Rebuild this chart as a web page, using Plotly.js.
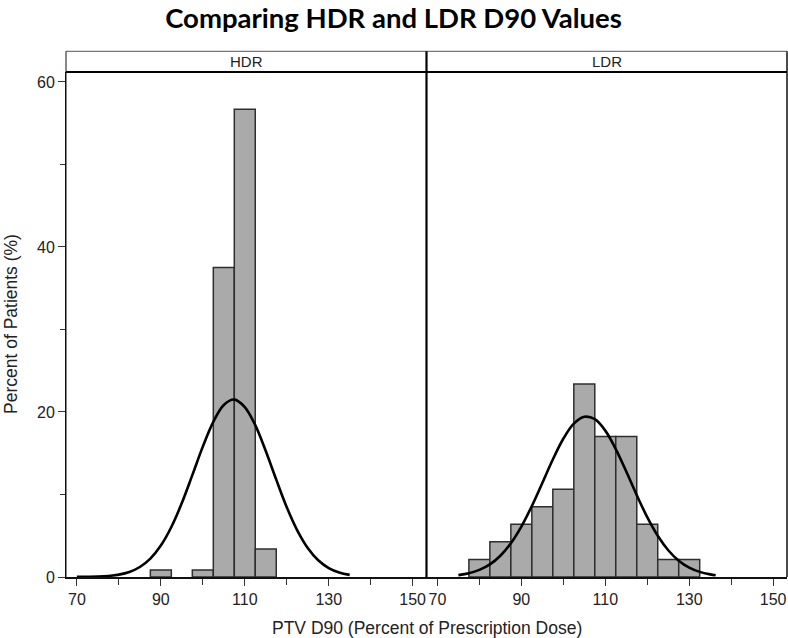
<!DOCTYPE html>
<html>
<head>
<meta charset="utf-8">
<script src="https://cdn.plot.ly/plotly-3.0.1.min.js"></script>
<style>html,body{margin:0;padding:0;background:#fff;}#chart{width:788px;height:638px;}</style>
</head>
<body>
<div id="chart"></div>
<script>
// Histogram bins (bin centers, percent of patients)
var hdrBins = [90, 100, 105, 110, 115];
var hdrPercent = [0.85, 0.85, 37.5, 56.7, 3.4];
var ldrBins = [80, 85, 90, 95, 100, 105, 110, 115, 120, 125, 130];
var ldrPercent = [2.13, 4.26, 6.38, 8.51, 10.64, 23.4, 17.02, 17.02, 6.38, 2.13, 2.13];

// Fitted normal density curves
var hdrCurveX = [70, 72.5, 75, 77.5, 80, 82.5, 85, 87.5, 90, 92.5, 95, 97.5, 100, 102.5, 105, 107.5, 110, 112.5, 115, 117.5, 120, 122.5, 125, 127.5, 130, 132.5, 135];
var hdrCurveY = [0.01, 0.02, 0.05, 0.13, 0.29, 0.61, 1.21, 2.23, 3.81, 6.06, 8.96, 12.34, 15.8, 18.8, 20.85, 21.5, 20.6, 18.4, 15.26, 11.8, 8.46, 5.66, 3.52, 2.03, 1.09, 0.55, 0.26];
var ldrCurveX = [75, 77.5, 80, 82.5, 85, 87.5, 90, 92.5, 95, 97.5, 100, 102.5, 105, 107.5, 110, 112.5, 115, 117.5, 120, 122.5, 125, 127.5, 130, 132.5, 135, 136.3];
var ldrCurveY = [0.23, 0.45, 0.86, 1.53, 2.58, 4.09, 6.11, 8.6, 11.4, 14.24, 16.75, 18.58, 19.41, 19.12, 17.74, 15.5, 12.78, 9.92, 7.25, 4.99, 3.24, 1.98, 1.14, 0.62, 0.32, 0.22];

var panelNames = ['HDR', 'LDR'];
var xTickVals = [70, 90, 110, 130, 150];
var yTickVals = [0, 20, 40, 60];

var barStyle = {color: '#aaaaaa', line: {color: '#2e2e2e', width: 1.5}};
var traces = [
  {type: 'bar', x: hdrBins, y: hdrPercent, width: 5, marker: barStyle, xaxis: 'x', yaxis: 'y', name: 'HDR', hoverinfo: 'x+y'},
  {type: 'scatter', mode: 'lines', x: hdrCurveX, y: hdrCurveY, line: {color: '#000', width: 2.6, shape: 'spline'}, xaxis: 'x', yaxis: 'y', name: 'HDR normal'},
  {type: 'bar', x: ldrBins, y: ldrPercent, width: 5, marker: barStyle, xaxis: 'x2', yaxis: 'y', name: 'LDR', hoverinfo: 'x+y'},
  {type: 'scatter', mode: 'lines', x: ldrCurveX, y: ldrCurveY, line: {color: '#000', width: 2.6, shape: 'spline'}, xaxis: 'x2', yaxis: 'y', name: 'LDR normal'}
];

var tickFont = {family: 'Liberation Sans, Arial, sans-serif', size: 16, color: '#222'};
function xAxis(domain) {
  return {
    domain: domain, range: [67.4, 153.3], anchor: 'y',
    tickmode: 'array', tickvals: xTickVals, ticktext: xTickVals.map(String),
    ticks: 'outside', ticklen: 7, tickwidth: 1, tickcolor: '#333',
    minor: {tickmode: 'linear', tick0: 70, dtick: 10, ticks: 'outside', ticklen: 6, tickwidth: 1, tickcolor: '#333', showgrid: false},
    showline: true, linecolor: '#111', linewidth: 1.5,
    showgrid: false, zeroline: false, tickfont: tickFont, fixedrange: true
  };
}

var stripH = 20.7 / 505;
var layout = {
  width: 788, height: 638,
  margin: {l: 66, r: 1, t: 72, b: 61},
  paper_bgcolor: '#fff', plot_bgcolor: '#fff',
  showlegend: false, bargap: 0,
  title: {
    text: '<b>Comparing HDR and LDR D90 Values</b>',
    font: {family: 'Lato, Open Sans, sans-serif', size: 27.5, color: '#000'},
    x: 0.4994, xref: 'container', xanchor: 'center',
    y: 1 - 18 / 638, yref: 'container', yanchor: 'middle'
  },
  xaxis: xAxis([0, 0.5]),
  xaxis2: xAxis([0.5, 1]),
  yaxis: {
    range: [0, 61.2], tickmode: 'array', tickvals: yTickVals, ticktext: yTickVals.map(String),
    ticks: 'outside', ticklen: 7, tickwidth: 1, tickcolor: '#333',
    minor: {tickmode: 'linear', tick0: 0, dtick: 10, ticks: 'outside', ticklen: 5, tickwidth: 1, tickcolor: '#333', showgrid: false},
    showline: true, linecolor: '#111', linewidth: 1,
    showgrid: false, zeroline: false, tickfont: tickFont, fixedrange: true
  },
  shapes: [
    {type: 'line', xref: 'paper', yref: 'paper', x0: 0, x1: 1, y0: 1 + stripH, y1: 1 + stripH, line: {color: '#555', width: 1}},
    {type: 'line', xref: 'paper', yref: 'paper', x0: 0, x1: 1, y0: 1, y1: 1, line: {color: '#000', width: 2.2}},
    {type: 'line', xref: 'paper', yref: 'paper', x0: 0, x1: 0, y0: 0, y1: 1 + stripH, line: {color: '#111', width: 1}},
    {type: 'line', xref: 'paper', yref: 'paper', x0: 0.5, x1: 0.5, y0: 0, y1: 1 + stripH, line: {color: '#000', width: 2.2}},
    {type: 'line', xref: 'paper', yref: 'paper', x0: 1, x1: 1, y0: 0, y1: 1 + stripH, line: {color: '#111', width: 1.5}}
  ],
  annotations: [
    {text: panelNames[0], xref: 'paper', yref: 'paper', x: 0.25, y: 1 + stripH / 2, xanchor: 'center', yanchor: 'middle', showarrow: false,
     font: {family: 'Liberation Sans, Arial, sans-serif', size: 15, color: '#222'}},
    {text: panelNames[1], xref: 'paper', yref: 'paper', x: 0.75, y: 1 + stripH / 2, xanchor: 'center', yanchor: 'middle', showarrow: false,
     font: {family: 'Liberation Sans, Arial, sans-serif', size: 15, color: '#222'}},
    {text: 'PTV D90 (Percent of Prescription Dose)', xref: 'paper', yref: 'paper', x: 0.5, y: -(628 - 577) / 505, xanchor: 'center', yanchor: 'middle', showarrow: false,
     font: {family: 'Liberation Sans, Arial, sans-serif', size: 17.5, color: '#222'}},
    {text: 'Percent of Patients (%)', xref: 'paper', yref: 'paper', x: (11 - 66) / 721, y: (577 - 324) / 505, xanchor: 'center', yanchor: 'middle', textangle: -90, showarrow: false,
     font: {family: 'Liberation Sans, Arial, sans-serif', size: 17.5, color: '#222'}}
  ]
};

Plotly.newPlot('chart', traces, layout, {displayModeBar: false, staticPlot: true});
</script>
</body>
</html>
